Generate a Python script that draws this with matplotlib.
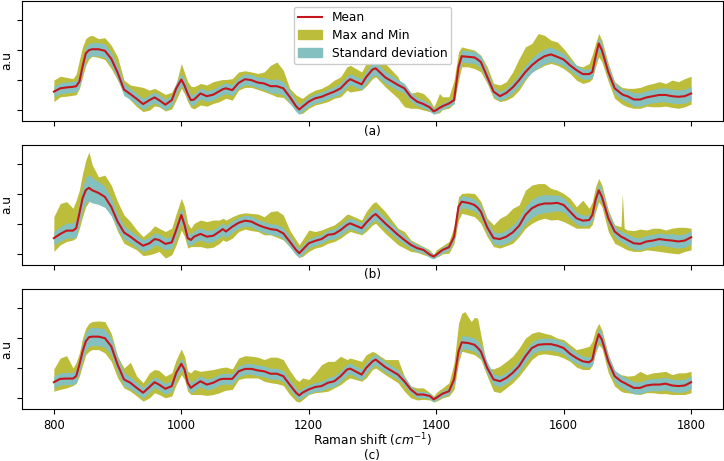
import numpy as np
import matplotlib
matplotlib.use("Agg")
import matplotlib.pyplot as plt
from matplotlib.patches import Patch
from matplotlib.lines import Line2D

shift = [800, 810, 820, 830, 835, 840, 845, 850, 855, 860,
         870, 880, 890, 900, 910, 920, 930, 940, 950, 958,
         965, 975, 985, 992, 1000, 1005, 1010, 1015, 1020, 1030,
         1040, 1050, 1060, 1065, 1070, 1080, 1090, 1100, 1110, 1120,
         1130, 1140, 1150, 1160, 1170, 1180, 1185, 1190, 1200, 1210,
         1220, 1230, 1240, 1250, 1260, 1265, 1283, 1290, 1300, 1305,
         1320, 1340, 1350, 1360, 1370, 1380, 1390, 1396, 1400, 1405,
         1410, 1420, 1428, 1435, 1440, 1445, 1450, 1455, 1460, 1465,
         1470, 1480, 1490, 1500, 1510, 1520, 1530, 1540, 1550, 1560,
         1570, 1580, 1590, 1600, 1610, 1620, 1630, 1640, 1645, 1650,
         1655, 1660, 1670, 1680, 1690, 1692, 1695, 1700, 1710, 1720,
         1730, 1740, 1750, 1760, 1770, 1780, 1790, 1800]

# ---------------- panel (a) ----------------
mean_a = [0.62, 0.73, 0.76, 0.78, 0.80, 0.95, 1.45, 1.88, 1.99, 2.02,
          2.02, 1.97, 1.71, 1.25, 0.69, 0.54, 0.38, 0.21, 0.34, 0.43,
          0.34, 0.19, 0.34, 0.73, 1.02, 0.82, 0.55, 0.34, 0.36, 0.56,
          0.47, 0.52, 0.64, 0.70, 0.73, 0.67, 0.91, 1.03, 1.00, 0.92,
          0.89, 0.80, 0.80, 0.73, 0.45, 0.14, 0.03, 0.12, 0.29, 0.40,
          0.45, 0.54, 0.62, 0.73, 0.95, 1.03, 0.86, 1.10, 1.35, 1.39,
          1.09, 0.84, 0.73, 0.45, 0.29, 0.21, 0.10, -0.03, 0.01, 0.08,
          0.14, 0.23, 0.34, 1.44, 1.79, 1.78, 1.77, 1.76, 1.75, 1.68,
          1.60, 1.11, 0.62, 0.47, 0.58, 0.76, 1.00, 1.27, 1.49, 1.66,
          1.79, 1.85, 1.77, 1.68, 1.49, 1.33, 1.20, 1.20, 1.27, 1.77,
          2.21, 1.99, 1.27, 0.73, 0.56, 0.53, 0.50, 0.47, 0.36, 0.36,
          0.43, 0.47, 0.51, 0.51, 0.47, 0.45, 0.47, 0.56]
std_a = [0.18, 0.18, 0.18, 0.18, 0.18, 0.20, 0.22, 0.22, 0.22, 0.22,
         0.22, 0.22, 0.22, 0.22, 0.20, 0.18, 0.18, 0.18, 0.18, 0.18,
         0.18, 0.18, 0.18, 0.18, 0.20, 0.20, 0.18, 0.18, 0.18, 0.18,
         0.18, 0.18, 0.18, 0.18, 0.18, 0.18, 0.18, 0.18, 0.18, 0.18,
         0.20, 0.22, 0.24, 0.22, 0.20, 0.18, 0.16, 0.16, 0.16, 0.16,
         0.16, 0.16, 0.17, 0.18, 0.18, 0.18, 0.18, 0.20, 0.22, 0.22,
         0.20, 0.18, 0.16, 0.15, 0.14, 0.13, 0.12, 0.10, 0.10, 0.10,
         0.10, 0.10, 0.12, 0.18, 0.20, 0.20, 0.20, 0.20, 0.20, 0.20,
         0.20, 0.18, 0.16, 0.15, 0.16, 0.18, 0.20, 0.22, 0.24, 0.25,
         0.25, 0.24, 0.22, 0.20, 0.18, 0.17, 0.17, 0.17, 0.18, 0.20,
         0.22, 0.22, 0.20, 0.18, 0.18, 0.18, 0.18, 0.20, 0.22, 0.22,
         0.22, 0.22, 0.23, 0.23, 0.23, 0.23, 0.23, 0.23]
max_a = [1.00, 1.13, 1.09, 1.05, 1.20, 1.66, 2.10, 2.37, 2.45, 2.48,
         2.37, 2.40, 2.15, 1.77, 1.00, 0.84, 0.80, 0.76, 0.67, 0.73,
         0.65, 0.53, 0.60, 0.90, 1.55, 1.25, 0.95, 0.80, 0.78, 0.89,
         0.84, 0.95, 1.00, 1.02, 1.02, 1.05, 1.27, 1.31, 1.27, 1.22,
         1.27, 1.49, 1.60, 1.33, 0.73, 0.51, 0.45, 0.40, 0.56, 0.67,
         0.73, 0.84, 1.00, 1.11, 1.44, 1.49, 1.27, 1.55, 1.85, 1.95,
         1.55, 1.11, 0.61, 0.56, 0.62, 0.56, 0.34, 0.12, 0.29, 0.56,
         0.45, 0.45, 1.00, 1.93, 2.10, 2.07, 2.04, 2.02, 1.99, 1.90,
         1.82, 1.44, 0.89, 0.84, 0.95, 1.27, 1.71, 2.10, 2.21, 2.54,
         2.48, 2.32, 2.26, 2.04, 1.77, 1.49, 1.44, 1.55, 1.85, 2.21,
         2.54, 2.32, 1.55, 0.95, 0.78, 0.76, 0.75, 0.73, 0.73, 0.76,
         0.84, 0.89, 0.95, 0.89, 1.00, 0.95, 1.05, 1.13]
min_a = [0.29, 0.45, 0.47, 0.50, 0.52, 0.73, 1.10, 1.49, 1.70, 1.79,
         1.75, 1.68, 1.38, 1.00, 0.58, 0.34, 0.12, -0.04, 0.01, 0.15,
         0.12, -0.02, 0.05, 0.35, 0.73, 0.55, 0.29, 0.10, 0.05, 0.18,
         0.14, 0.23, 0.29, 0.35, 0.40, 0.34, 0.67, 0.76, 0.76, 0.69,
         0.62, 0.54, 0.45, 0.43, 0.23, 0.01, -0.10, -0.10, 0.07, 0.18,
         0.23, 0.29, 0.40, 0.45, 0.67, 0.61, 0.67, 0.80, 1.05, 1.11,
         0.78, 0.40, 0.12, 0.07, 0.07, 0.01, -0.04, -0.10, -0.10, -0.08,
         0.03, 0.07, 0.23, 1.00, 1.44, 1.44, 1.44, 1.41, 1.38, 1.33,
         1.27, 0.89, 0.40, 0.29, 0.34, 0.45, 0.67, 1.00, 1.27, 1.38,
         1.49, 1.55, 1.49, 1.38, 1.22, 1.00, 0.89, 0.95, 1.05, 1.44,
         1.77, 1.60, 0.95, 0.40, 0.23, 0.20, 0.17, 0.12, 0.07, 0.07,
         0.14, 0.12, 0.12, 0.14, 0.10, 0.07, 0.12, 0.21]

# ---------------- panel (b) ----------------
mean_b = [0.54, 0.68, 0.79, 0.79, 0.87, 1.36, 1.86, 2.13, 2.21, 2.13,
          2.04, 1.91, 1.58, 1.09, 0.73, 0.59, 0.43, 0.29, 0.37, 0.51,
          0.48, 0.35, 0.40, 0.81, 1.31, 0.98, 0.54, 0.48, 0.59, 0.68,
          0.59, 0.62, 0.76, 0.84, 0.76, 0.92, 1.05, 1.12, 1.09, 0.98,
          0.90, 0.84, 0.81, 0.70, 0.43, 0.15, 0.04, 0.15, 0.37, 0.45,
          0.51, 0.65, 0.68, 0.81, 0.98, 1.03, 0.87, 1.05, 1.27, 1.34,
          1.03, 0.65, 0.48, 0.32, 0.21, 0.15, -0.01, -0.07, -0.01, 0.07,
          0.15, 0.24, 0.59, 1.58, 1.75, 1.73, 1.71, 1.68, 1.64, 1.55,
          1.42, 0.90, 0.54, 0.51, 0.59, 0.73, 0.95, 1.31, 1.53, 1.64,
          1.69, 1.69, 1.71, 1.64, 1.42, 1.20, 1.12, 1.14, 1.31, 1.80,
          2.13, 1.91, 1.20, 0.76, 0.59, 0.57, 0.54, 0.48, 0.37, 0.35,
          0.43, 0.46, 0.51, 0.48, 0.46, 0.43, 0.46, 0.57]
std_b = [0.22, 0.24, 0.25, 0.25, 0.28, 0.32, 0.38, 0.42, 0.44, 0.42,
         0.38, 0.35, 0.30, 0.25, 0.22, 0.20, 0.20, 0.20, 0.20, 0.20,
         0.20, 0.20, 0.20, 0.22, 0.25, 0.22, 0.20, 0.20, 0.20, 0.20,
         0.20, 0.20, 0.20, 0.20, 0.20, 0.20, 0.18, 0.18, 0.18, 0.18,
         0.18, 0.18, 0.18, 0.18, 0.18, 0.16, 0.15, 0.15, 0.15, 0.15,
         0.15, 0.16, 0.17, 0.18, 0.18, 0.18, 0.18, 0.18, 0.20, 0.20,
         0.18, 0.16, 0.14, 0.12, 0.12, 0.10, 0.10, 0.08, 0.08, 0.09,
         0.10, 0.10, 0.14, 0.20, 0.20, 0.20, 0.20, 0.20, 0.20, 0.20,
         0.20, 0.20, 0.20, 0.20, 0.22, 0.24, 0.26, 0.28, 0.30, 0.30,
         0.30, 0.28, 0.26, 0.24, 0.22, 0.20, 0.18, 0.17, 0.18, 0.22,
         0.24, 0.22, 0.20, 0.18, 0.18, 0.18, 0.18, 0.20, 0.20, 0.20,
         0.20, 0.20, 0.20, 0.20, 0.22, 0.22, 0.22, 0.22]
max_b = [1.25, 1.69, 1.75, 1.53, 1.80, 2.13, 2.68, 3.12, 3.40, 2.98,
         2.57, 2.63, 2.30, 1.75, 1.31, 1.09, 0.81, 0.59, 0.76, 0.95,
         0.87, 0.76, 0.87, 1.36, 1.86, 1.58, 1.03, 0.87, 1.03, 1.14,
         1.09, 1.14, 1.14, 1.20, 1.14, 1.25, 1.34, 1.38, 1.36, 1.34,
         1.25, 1.42, 1.45, 1.31, 0.81, 0.48, 0.32, 0.48, 0.81, 0.76,
         0.81, 0.90, 0.98, 1.14, 1.34, 1.31, 1.14, 1.42, 1.69, 1.75,
         1.42, 0.87, 0.76, 0.48, 0.37, 0.26, 0.15, -0.01, 0.15, 0.22,
         0.29, 0.43, 0.92, 1.91, 2.02, 2.03, 2.04, 2.03, 2.02, 1.90,
         1.75, 1.20, 0.98, 1.20, 1.31, 1.53, 1.64, 2.13, 2.30, 2.35,
         2.35, 2.19, 2.13, 2.02, 1.86, 1.58, 1.80, 1.53, 1.75, 2.24,
         2.52, 2.30, 1.47, 0.98, 0.92, 2.02, 0.87, 0.81, 0.79, 0.84,
         0.81, 0.87, 0.87, 0.81, 0.87, 0.90, 0.90, 0.87]
min_b = [0.10, 0.32, 0.43, 0.48, 0.55, 0.87, 1.25, 1.58, 1.75, 1.75,
         1.69, 1.64, 1.31, 0.76, 0.37, 0.26, 0.15, -0.04, -0.01, 0.04,
         0.10, -0.12, -0.01, 0.32, 0.81, 0.59, 0.21, 0.26, 0.26, 0.26,
         0.21, 0.24, 0.37, 0.48, 0.43, 0.54, 0.76, 0.84, 0.79, 0.76,
         0.65, 0.65, 0.57, 0.48, 0.26, -0.01, -0.09, -0.07, 0.10, 0.21,
         0.26, 0.37, 0.43, 0.54, 0.70, 0.76, 0.65, 0.76, 0.98, 1.03,
         0.70, 0.32, 0.21, 0.10, 0.07, -0.01, -0.07, -0.12, -0.09, -0.05,
         0.02, 0.04, 0.37, 1.14, 1.36, 1.34, 1.31, 1.28, 1.25, 1.15,
         1.03, 0.59, 0.26, 0.21, 0.29, 0.37, 0.59, 0.87, 1.03, 1.14,
         1.20, 1.14, 1.16, 1.09, 0.98, 0.87, 0.87, 0.87, 1.00, 1.42,
         1.75, 1.58, 0.76, 0.37, 0.26, 0.24, 0.20, 0.15, 0.10, 0.10,
         0.15, 0.13, 0.10, 0.07, 0.04, 0.02, 0.10, 0.15]

# ---------------- panel (c) ----------------
mean_c = [0.54, 0.65, 0.66, 0.66, 0.74, 1.12, 1.55, 1.89, 2.03, 2.05,
          2.05, 2.00, 1.73, 1.12, 0.63, 0.52, 0.35, 0.19, 0.38, 0.54,
          0.46, 0.32, 0.41, 0.85, 1.15, 0.96, 0.52, 0.35, 0.43, 0.57,
          0.46, 0.52, 0.63, 0.65, 0.65, 0.65, 0.90, 0.98, 0.98, 0.93,
          0.90, 0.82, 0.82, 0.74, 0.46, 0.19, 0.10, 0.19, 0.30, 0.38,
          0.41, 0.52, 0.57, 0.74, 0.96, 0.99, 0.79, 1.01, 1.23, 1.29,
          1.04, 0.79, 0.57, 0.30, 0.13, 0.13, 0.08, -0.03, 0.02, 0.09,
          0.16, 0.24, 0.63, 1.56, 1.86, 1.85, 1.84, 1.81, 1.78, 1.68,
          1.56, 1.01, 0.63, 0.57, 0.68, 0.85, 1.07, 1.40, 1.67, 1.78,
          1.80, 1.80, 1.75, 1.67, 1.48, 1.34, 1.23, 1.20, 1.29, 1.78,
          2.13, 1.95, 1.23, 0.74, 0.57, 0.55, 0.52, 0.46, 0.35, 0.35,
          0.43, 0.46, 0.46, 0.49, 0.43, 0.41, 0.43, 0.54]
std_c = [0.20, 0.20, 0.20, 0.20, 0.22, 0.25, 0.28, 0.30, 0.30, 0.30,
         0.30, 0.30, 0.28, 0.25, 0.22, 0.20, 0.18, 0.18, 0.18, 0.18,
         0.18, 0.18, 0.18, 0.18, 0.20, 0.20, 0.18, 0.18, 0.18, 0.18,
         0.18, 0.18, 0.18, 0.18, 0.18, 0.18, 0.18, 0.18, 0.18, 0.18,
         0.18, 0.18, 0.18, 0.18, 0.17, 0.16, 0.15, 0.15, 0.15, 0.15,
         0.16, 0.17, 0.18, 0.18, 0.18, 0.18, 0.18, 0.18, 0.18, 0.18,
         0.17, 0.16, 0.14, 0.12, 0.11, 0.10, 0.10, 0.08, 0.08, 0.09,
         0.10, 0.11, 0.14, 0.20, 0.22, 0.22, 0.22, 0.22, 0.22, 0.22,
         0.22, 0.20, 0.18, 0.18, 0.18, 0.19, 0.20, 0.20, 0.20, 0.20,
         0.20, 0.20, 0.20, 0.20, 0.20, 0.18, 0.17, 0.17, 0.18, 0.20,
         0.22, 0.22, 0.20, 0.20, 0.20, 0.20, 0.20, 0.20, 0.20, 0.20,
         0.20, 0.20, 0.21, 0.21, 0.21, 0.21, 0.21, 0.21]
max_c = [0.98, 1.34, 1.42, 1.01, 1.20, 1.51, 2.00, 2.33, 2.49, 2.55,
         2.57, 2.55, 2.16, 1.40, 1.01, 1.20, 0.74, 0.52, 0.85, 0.96,
         0.93, 0.74, 0.85, 1.29, 1.64, 1.40, 0.90, 0.85, 0.96, 0.90,
         0.93, 0.96, 1.01, 1.03, 1.04, 0.98, 1.34, 1.42, 1.40, 1.37,
         1.29, 1.37, 1.37, 1.29, 0.93, 0.63, 0.57, 0.68, 0.63, 0.85,
         1.12, 1.23, 1.23, 1.40, 1.29, 1.34, 1.23, 1.45, 1.56, 1.51,
         1.29, 1.29, 0.74, 0.41, 0.35, 0.35, 0.19, 0.08, 0.19, 0.28,
         0.35, 0.52, 1.18, 2.49, 2.82, 2.88, 2.71, 2.55, 2.69, 2.66,
         2.11, 1.01, 0.98, 1.07, 1.23, 1.40, 1.67, 2.00, 2.16, 2.22,
         2.16, 2.11, 2.00, 1.95, 1.78, 1.62, 1.67, 1.73, 1.90, 2.27,
         2.49, 2.27, 1.45, 0.90, 0.79, 0.78, 0.77, 0.74, 0.76, 0.90,
         0.79, 0.85, 0.87, 0.90, 0.79, 0.85, 0.85, 0.90]
min_c = [0.24, 0.30, 0.35, 0.43, 0.50, 0.74, 1.10, 1.45, 1.56, 1.62,
         1.62, 1.51, 1.23, 0.68, 0.35, 0.24, 0.08, -0.09, 0.02, 0.19,
         0.13, 0.02, 0.08, 0.46, 0.79, 0.63, 0.24, 0.13, 0.13, 0.13,
         0.10, 0.13, 0.19, 0.24, 0.27, 0.30, 0.63, 0.68, 0.68, 0.68,
         0.57, 0.52, 0.49, 0.43, 0.13, -0.09, -0.12, -0.05, 0.13, 0.19,
         0.21, 0.24, 0.35, 0.46, 0.63, 0.68, 0.57, 0.68, 0.96, 1.01,
         0.79, 0.52, 0.24, 0.02, -0.05, -0.03, -0.05, -0.12, -0.09, -0.04,
         0.02, 0.08, 0.30, 1.18, 1.56, 1.54, 1.51, 1.48, 1.45, 1.37,
         1.29, 0.74, 0.24, 0.19, 0.35, 0.52, 0.74, 1.01, 1.29, 1.45,
         1.48, 1.45, 1.42, 1.34, 1.23, 1.04, 0.96, 0.96, 1.10, 1.51,
         1.78, 1.67, 0.85, 0.41, 0.24, 0.22, 0.20, 0.19, 0.16, 0.13,
         0.19, 0.19, 0.16, 0.16, 0.13, 0.13, 0.13, 0.19]

panel_labels = ["(a)", "(b)", "(c)"]
x_ticks = [800, 1000, 1200, 1400, 1600, 1800]
y_ticks = [0, 1, 2, 3]

C_MEAN = "#c4161c"
C_RANGE = "#bdbd3c"
C_STD = "#84c0c0"
FS = 8.7

fig = plt.figure(figsize=(7.24, 4.61), dpi=100)
positions = [[0.0304, 0.7375, 0.9682, 0.2614],
             [0.0304, 0.4252, 0.9682, 0.2603],
             [0.0304, 0.1128, 0.9682, 0.2603]]
panel_label_y = [-0.089, -0.083, -0.385]
panels = [(mean_a, std_a, max_a, min_a),
          (mean_b, std_b, max_b, min_b),
          (mean_c, std_c, max_c, min_c)]

x = np.array(shift)
for i, (pos, (m, s, mx, mn)) in enumerate(zip(positions, panels)):
    ax = fig.add_axes(pos)
    m = np.array(m); s = np.array(s)
    ax.fill_between(x, mn, mx, color=C_RANGE, linewidth=0)
    ax.fill_between(x, m - s, m + s, color=C_STD, linewidth=0)
    ax.plot(x, m, color=C_MEAN, lw=1.5)
    ax.set_xlim(750, 1850)
    ax.set_ylim(-0.35, 3.63)
    ax.set_xticks(x_ticks)
    ax.set_yticks(y_ticks)
    ax.set_yticklabels([])
    ax.set_ylabel("a.u", fontsize=FS)
    ax.yaxis.set_label_coords(-0.0128, 0.5)
    ax.tick_params(labelsize=8.3)
    ax.text(0.5, panel_label_y[i], panel_labels[i], transform=ax.transAxes,
            ha="center", va="center", fontsize=FS)
    if i < 2:
        ax.set_xticklabels([])
    else:
        ax.text(0.5, -0.2610, "Raman shift ($cm^{-1}$)", transform=ax.transAxes,
                ha="center", va="center", fontsize=FS)
    if i == 0:
        handles = [Line2D([0], [0], color=C_MEAN, lw=1.5),
                   Patch(color=C_RANGE), Patch(color=C_STD)]
        ax.legend(handles, ["Mean", "Max and Min", "Standard deviation"],
                  loc="upper center", fontsize=FS, framealpha=1.0,
                  labelspacing=0.42, borderpad=0.35)

fig.savefig("out.png", dpi=100)
